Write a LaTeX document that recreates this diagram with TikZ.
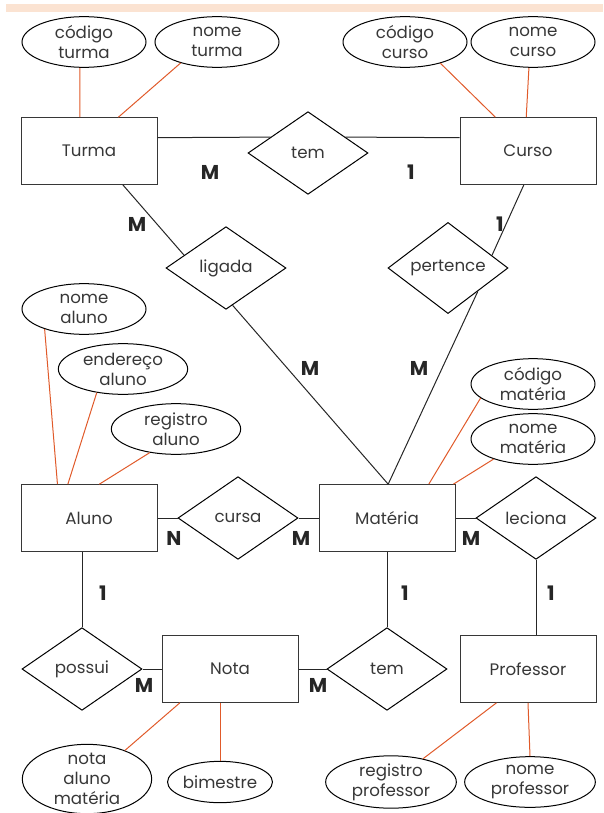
\documentclass[tikz,border=0pt]{standalone}
\usepackage{fontspec}
\setmainfont{Poppins}
\usetikzlibrary{shapes.geometric}

\definecolor{linkred}{RGB}{224,90,42}
\definecolor{bandpeach}{RGB}{251,227,210}
\definecolor{inkgray}{RGB}{55,55,55}

\tikzset{every picture/.style={line width=0.75pt}}
\tikzset{
	entity/.style={draw=inkgray, rectangle, minimum width=102pt, minimum height=50pt, inner sep=0pt, text=inkgray, font=\fontsize{12.5}{15}\selectfont},
	relation/.style={draw=black, diamond, minimum width=90pt, minimum height=62pt, inner sep=0pt, text=inkgray, font=\fontsize{12.5}{15}\selectfont},
	attrib/.style={draw=black, ellipse, minimum width=93pt, minimum height=38pt, inner sep=0pt, align=center, text=inkgray, font=\fontsize{12.5}{15}\selectfont},
	card/.style={text=black!85, font=\fontsize{15}{15}\selectfont\bfseries},
	attrline/.style={draw=linkred},
	relline/.style={draw=black!85}
}

\begin{document}
\begin{tikzpicture}[x=0.75pt,y=0.75pt,yscale=-1,xscale=1]
	\useasboundingbox (0,0) rectangle (603,813);
	%Shape: Band 
	\fill [bandpeach] (6,4) rectangle (603,12);

	%Shape: Rectangle 
	\node [entity] (turma) at (89,151) {Turma};
	\node [entity] (curso) at (528,151) {Curso};
	\node [entity] (aluno) at (89,518) {Aluno};
	\node [entity] (materia) at (387,518) {Matéria};
	\node [entity] (nota) at (230,669) {Nota};
	\node [entity] (professor) at (528,669) {Professor};

	%Shape: Diamond 
	\node [relation] (temA) at (308,153) {tem};
	\node [relation] (ligada) at (226,268) {ligada};
	\node [relation] (pertence) at (448,268) {pertence};
	\node [relation] (cursa) at (238,518) {cursa};
	\node [relation] (leciona) at (536,518) {leciona};
	\node [relation] (possui) at (82,669) {possui};
	\node [relation] (temB) at (387,669) {tem};

	%Shape: Ellipse 
	\node [attrib] (codTurma) at (84,42) {código\\turma};
	\node [attrib] (nomeTurma) at (217,42) {nome\\turma};
	\node [attrib] (codCurso) at (405,42) {código\\curso};
	\node [attrib] (nomeCurso) at (533,42) {nome\\curso};
	\node [attrib] (nomeAluno) at (84,309) {nome\\aluno};
	\node [attrib, minimum width=97pt] (endAluno) at (123,369) {endereço\\aluno};
	\node [attrib, minimum width=97pt] (regAluno) at (176,429) {registro\\aluno};
	\node [attrib] (codMateria) at (533,384) {código\\matéria};
	\node [attrib] (nomeMateria) at (533,439) {nome\\matéria};
	\node [attrib, minimum width=97pt, minimum height=52pt, inner ysep=-4pt] (notaAM) at (87,779) {nota\\aluno\\matéria};
	\node [attrib, minimum width=76pt, minimum height=31pt] (bimestre) at (220,782) {bimestre};
	\node [attrib, minimum width=98pt] (regProf) at (391,782) {registro\\professor};
	\node [attrib, minimum width=98pt] (nomeProf) at (530,782) {nome\\professor};

	%Straight Lines 
	\draw [relline] (turma.11) -- (temA.157);
	\draw [relline] (temA.23) -- (curso.169);
	\draw [relline] (turma.315) -- (ligada.163);
	\draw [relline] (curso.263) -- (pertence.16);
	\draw [relline] (ligada.280) -- (materia.88);
	\draw [relline] (pertence.322) -- (materia.88);
	\draw [relline] (aluno.east) -- (cursa.west);
	\draw [relline] (cursa.east) -- (materia.west);
	\draw [relline] (materia.east) -- (leciona.west);
	\draw [relline] (possui.north) -- (possui.north |- aluno.south);
	\draw [relline] (materia.south) -- (temB.north);
	\draw [relline] (leciona.south) -- (leciona.south |- professor.north);
	\draw [relline] (possui.east) -- (nota.west);
	\draw [relline] (nota.east) -- (temB.west);

	%Attribute Lines 
	\draw [attrline] (codTurma.261) -- (turma.105);
	\draw [attrline] (nomeTurma.210) -- (turma.49);
	\draw [attrline] (codCurso.329) -- (curso.134);
	\draw [attrline] (nomeCurso.261) -- (curso.93);
	\draw [attrline] (nomeAluno.207) -- (aluno.133);
	\draw [attrline] (endAluno.222) -- (aluno.122);
	\draw [attrline] (regAluno.222) -- (aluno.73);
	\draw [attrline] (codMateria.195) -- (materia.39);
	\draw [attrline] (nomeMateria.207) -- (materia.27);
	\draw [attrline] (notaAM.37) -- (nota.214);
	\draw [attrline] (bimestre.north) -- (bimestre.north |- nota.south);
	\draw [attrline] (regProf.36) -- (professor.227);
	\draw [attrline] (nomeProf.north) -- (professor.south);

	% Text Node
	\node [card] (cardA) at (210,172) {M};
	\node [card] (cardB) at (411,172) {1};
	\node [card] (cardC) at (137,224) {M};
	\node [card] (cardD) at (500,224) {1};
	\node [card] (cardE) at (310,368) {M};
	\node [card] (cardF) at (419,368) {M};
	\node [card] (cardG) at (174,538) {N};
	\node [card] (cardH) at (301,538) {M};
	\node [card] (cardI) at (471,538) {M};
	\node [card] (cardJ) at (103,593) {1};
	\node [card] (cardK) at (405,593) {1};
	\node [card] (cardL) at (551,593) {1};
	\node [card] (cardM) at (144,685) {M};
	\node [card] (cardN) at (318,685) {M};

\end{tikzpicture}
\end{document}
